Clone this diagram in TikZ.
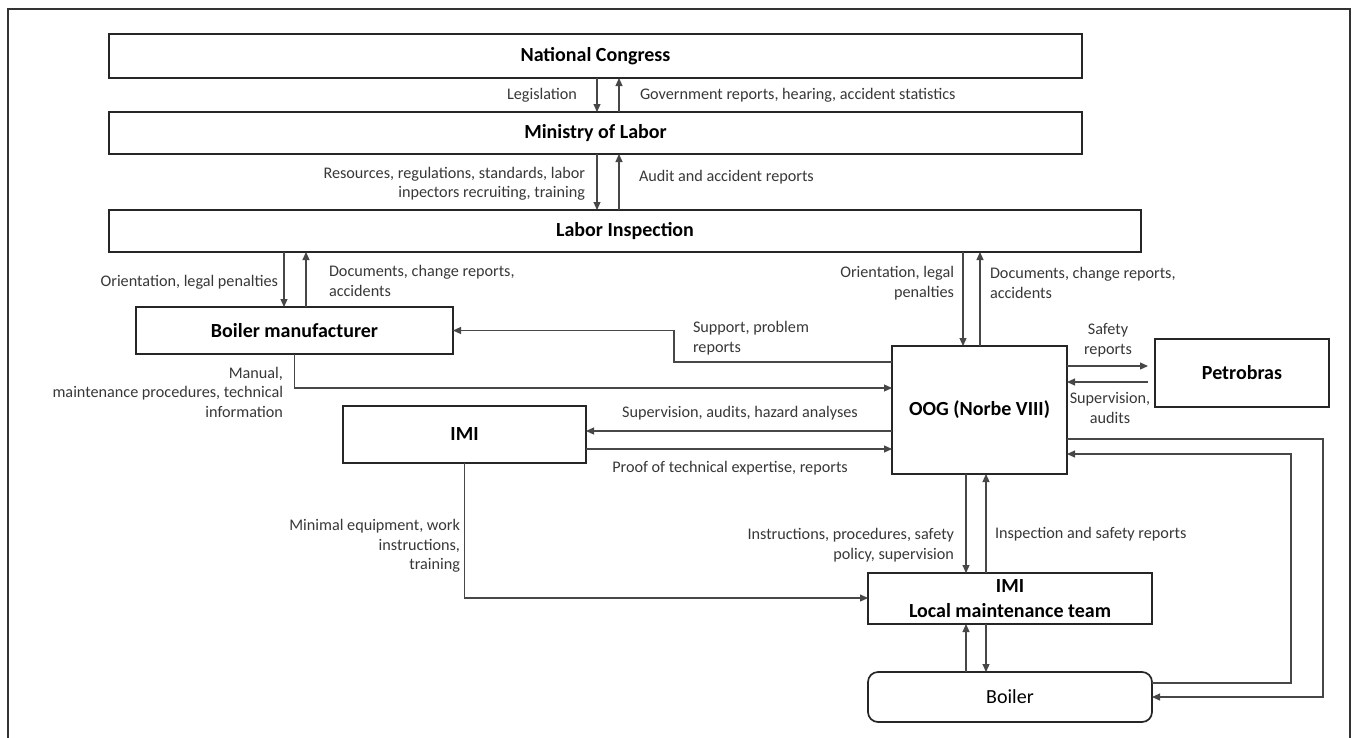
\documentclass[tikz,border=0pt]{standalone}
\usepackage{fontspec}
\setmainfont{Carlito}
\usetikzlibrary{arrows.meta,calc}
\begin{document}
\begin{tikzpicture}[x=1pt,y=-1pt,
  box/.style={draw=black!85,line width=1.7pt,inner sep=0pt,outer sep=0pt,
    font=\fontsize{20}{25}\selectfont\bfseries,anchor=north west,align=center},
  lbl/.style={inner sep=0pt,outer sep=0pt,font=\fontsize{16.2}{19.5}\selectfont,text=black!78},
  con/.style={draw=black!72,line width=1.1pt},
  arr/.style={con,-{Triangle[length=8pt,width=7pt]}},
]
\useasboundingbox (0,0) rectangle (1354,737);
\clip (0,0) rectangle (1354,737);
\fill[white] (0,0) rectangle (1354,737);
\draw[black!80,line width=1.5pt] (8,760) -- (8,9) -- (1350,9) -- (1350,760);

% boxes
\node[box,minimum width=973pt,minimum height=44pt] (nc) at (109,34) {National Congress};
\node[box,minimum width=973pt,minimum height=42pt] (ml) at (109,112) {Ministry of Labor};
\node[box,minimum width=1032pt,minimum height=42pt] (li) at (109,210) {Labor Inspection};
\node[box,minimum width=317pt,minimum height=47pt] (bm) at (136,307) {Boiler manufacturer};
\node[box,minimum width=243pt,minimum height=57pt] (imi) at (343,406) {IMI};
\node[box,minimum width=175pt,minimum height=128pt] (oog) at (892,346) {OOG (Norbe VIII)};
\node[box,minimum width=174pt,minimum height=68pt] (pet) at (1155,339) {Petrobras};
\node[box,minimum width=284pt,minimum height=51pt] (lmt) at (868,573) {IMI\\Local maintenance team};
\node[box,minimum width=284pt,minimum height=50pt,rounded corners=10pt,font=\fontsize{20}{25}\selectfont] (boiler) at (868,672) {Boiler};

% helper coordinates
\coordinate (xA) at (597,0);
\coordinate (xB) at (619,0);
\coordinate (xC) at (284,0);
\coordinate (xD) at (306,0);
\coordinate (xE) at (963,0);
\coordinate (xF) at (980,0);
\coordinate (xG) at (966,0);
\coordinate (xH) at (986,0);
\coordinate (x674) at (674,0);
\coordinate (x1323) at (1323,0);
\coordinate (x1291) at (1291,0);
\coordinate (y362) at (0,362);
\coordinate (y366) at (0,366);
\coordinate (y382) at (0,382);
\coordinate (y388) at (0,388);
\coordinate (y431) at (0,431);
\coordinate (y439) at (0,439);
\coordinate (y449) at (0,449);
\coordinate (y454) at (0,454);
\coordinate (y598) at (0,598);
\coordinate (y683) at (0,683);

% connectors
\draw[arr] (nc.south -| xA) -- (ml.north -| xA);
\draw[arr] (ml.north -| xB) -- (nc.south -| xB);
\draw[arr] (ml.south -| xA) -- (li.north -| xA);
\draw[arr] (li.north -| xB) -- (ml.south -| xB);
\draw[arr] (li.south -| xC) -- (bm.north -| xC);
\draw[arr] (bm.north -| xD) -- (li.south -| xD);
\draw[arr] (li.south -| xE) -- (oog.north -| xE);
\draw[arr] (oog.north -| xF) -- (li.south -| xF);
\draw[arr] (oog.west |- y362) -| (bm.east -| x674) -- (bm.east);
\draw[arr] (bm.south) |- (oog.west |- y388);
\draw[arr] (oog.west |- y431) -- (imi.east |- y431);
\draw[arr] (imi.east |- y449) -- (oog.west |- y449);
\draw[arr,shorten >=7pt] (oog.east |- y366) -- (pet.west |- y366);
\draw[arr,shorten <=7pt] (pet.west |- y382) -- (oog.east |- y382);
\draw[arr] (imi.south) |- (lmt.west |- y598);
\draw[arr] (oog.south -| xG) -- (lmt.north -| xG);
\draw[arr] (lmt.north -| xH) -- (oog.south -| xH);
\draw[arr] (boiler.north -| xG) -- (lmt.south -| xG);
\draw[arr] (lmt.south -| xH) -- (boiler.north -| xH);
\draw[arr] (oog.east |- y439) -| (boiler.east -| x1323) -- (boiler.east);
\draw[arr] (boiler.east |- y683) -| (x1291 |- y454) -- (oog.east |- y454);

% labels
\node[lbl,anchor=east] (l1) at (577,95) {Legislation};
\node[lbl,anchor=west] (l2) at (640,95) {Government reports, hearing, accident statistics};
\node[lbl,anchor=east,align=right] (l3) at (585,184) {Resources, regulations, standards, labor\\inpectors recruiting, training};
\node[lbl,anchor=west] (l4) at (639,177) {Audit and accident reports};
\node[lbl,anchor=east] (l5) at (278,282) {Orientation, legal penalties};
\node[lbl,anchor=west,align=left] (l6) at (329,281) {Documents, change reports,\\accidents};
\node[lbl,anchor=east,align=right] (l7) at (954,283) {Orientation, legal\\penalties};
\node[lbl,anchor=west,align=left] (l8) at (990,283) {Documents, change reports,\\accidents};
\node[lbl,anchor=west,align=left] (l9) at (693,338) {Support, problem\\reports};
\node[lbl,align=center] (l10) at (1108,340) {Safety\\reports};
\node[lbl,align=center] (l11) at (1110,408) {Supervision,\\audits};
\node[lbl,anchor=east,align=right] (l12) at (283,392) {Manual,\\maintenance procedures, technical\\information};
\node[lbl] (l13) at (740,413) {Supervision, audits, hazard analyses};
\node[lbl] (l14) at (730,468) {Proof of technical expertise, reports};
\node[lbl,anchor=east,align=right] (l15) at (460,546) {Minimal equipment, work\\instructions,\\training};
\node[lbl,anchor=east,align=right] (l16) at (954,545) {Instructions, procedures, safety\\policy, supervision};
\node[lbl,anchor=west] (l17) at (995,534) {Inspection and safety reports};
\end{tikzpicture}
\end{document}
